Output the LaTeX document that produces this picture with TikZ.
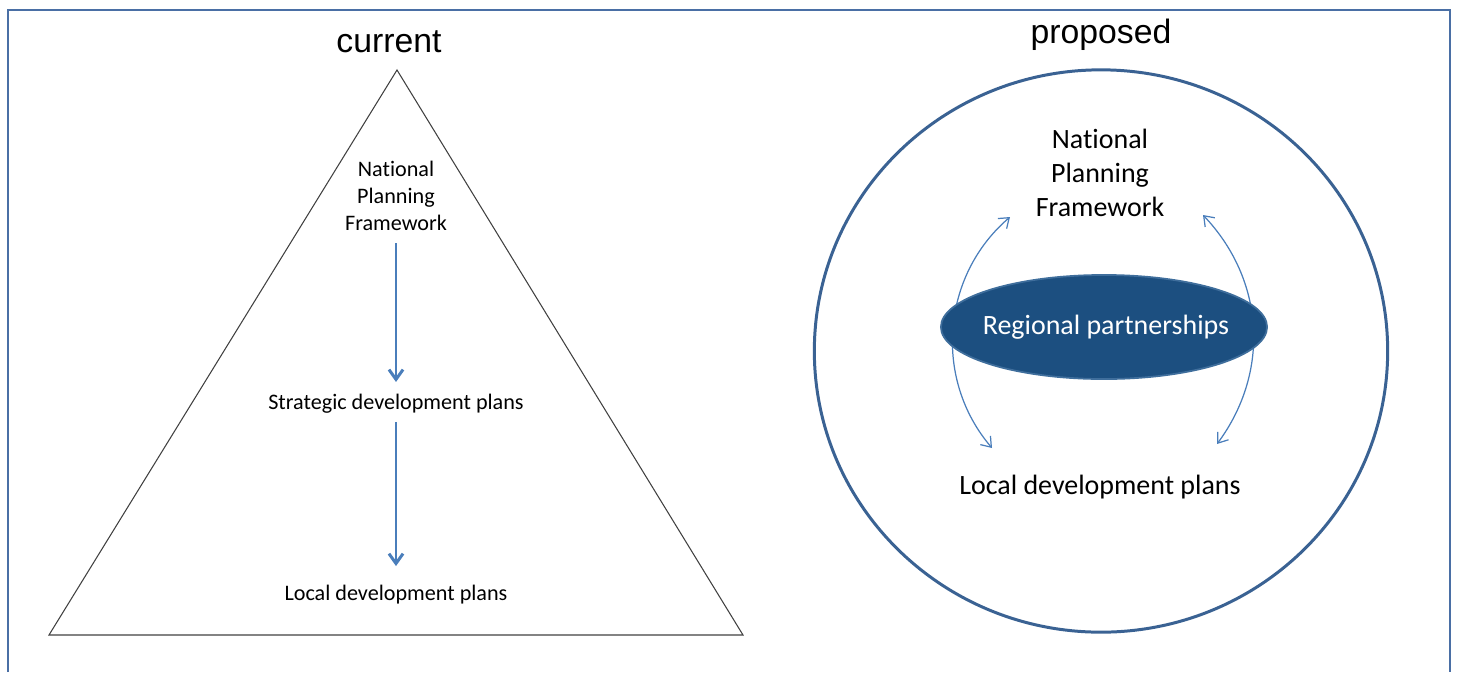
\documentclass[tikz,border=0pt]{standalone}
\usepackage{fontspec}
\setmainfont{Carlito}[RawFeature={-liga;-clig;-calt;-dlig}]
\newfontfamily\headfont{Liberation Sans}
\usetikzlibrary{arrows.meta,shapes.geometric}

\definecolor{framecol}{HTML}{4A6FA5}
\definecolor{ringcol}{HTML}{3A6293}
\definecolor{regfill}{HTML}{1C4F80}
\definecolor{regedge}{HTML}{3F6E9C}
\definecolor{arrcol}{HTML}{4A7EBB}

\tikzset{
    heading/.style={font=\headfont\fontsize{9.6pt}{11pt}\selectfont, anchor=base},
    smalltxt/.style={font=\fontsize{6.3pt}{7.7pt}\selectfont, align=center},
    bigtxt/.style={font=\fontsize{7.95pt}{9.65pt}\selectfont, align=center},
    downarrow/.style={draw=arrcol, line width=0.85pt, -{Straight Barb[length=2.8pt,width=4pt]}},
    thinarrow/.style={draw=arrcol, line width=0.35pt, {Straight Barb[length=2.6pt,width=3.8pt]}-{Straight Barb[length=2.6pt,width=3.8pt]}}
}

\begin{document}
\begin{tikzpicture}[x=0.01cm, y=-0.01cm]
    \useasboundingbox (0,0) rectangle (1457,672);
    \draw[framecol, line width=0.6pt] (8,672) -- (8,10) -- (1450,10) -- (1450,672);   %frame

    % left: hierarchy
    \node[heading] (current) at (389,52) {current};
    \draw[black!75, line width=0.3pt] (397,70) -- (743,635) -- (49,635) -- cycle;   %triangle
    \node[smalltxt] (npfl) at (396,196) {National\\Planning\\Framework};
    \node[smalltxt] (sdp) at (396,404) {Strategic development plans};
    \node[smalltxt] (ldpl) at (396,595) {Local development plans};
    \draw[downarrow] (npfl.south) -- (sdp.north);
    \draw[downarrow, shorten <=-1.2pt, shorten >=2pt] (sdp.south) -- (ldpl.north);

    % right: partnership
    \node[heading] (proposed) at (1101,43) {proposed};
    \draw[ringcol, line width=0.85pt] (1101,351) ellipse [x radius=2.865cm, y radius=2.81cm];   %circle
    \node[bigtxt] (npfr) at (1100,173) {National\\Planning\\Framework};
    \node[bigtxt] (ldpr) at (1100,487) {Local development plans};
    \coordinate (nl) at (1010,217);
    \coordinate (ll) at (992,448);
    \coordinate (nr) at (1203,215);
    \coordinate (lr) at (1217,444);
    \draw[thinarrow] (nl) to[bend right=45] (ll);
    \draw[thinarrow] (nr) to[bend left=40] (lr);
    \filldraw[fill=regfill, draw=regedge, line width=0.5pt] (1104,327) ellipse [x radius=1.63cm, y radius=0.52cm];   %ellipse
    \node[bigtxt, text=white] (reg) at (1106,327) {Regional partnerships};
\end{tikzpicture}
\end{document}
